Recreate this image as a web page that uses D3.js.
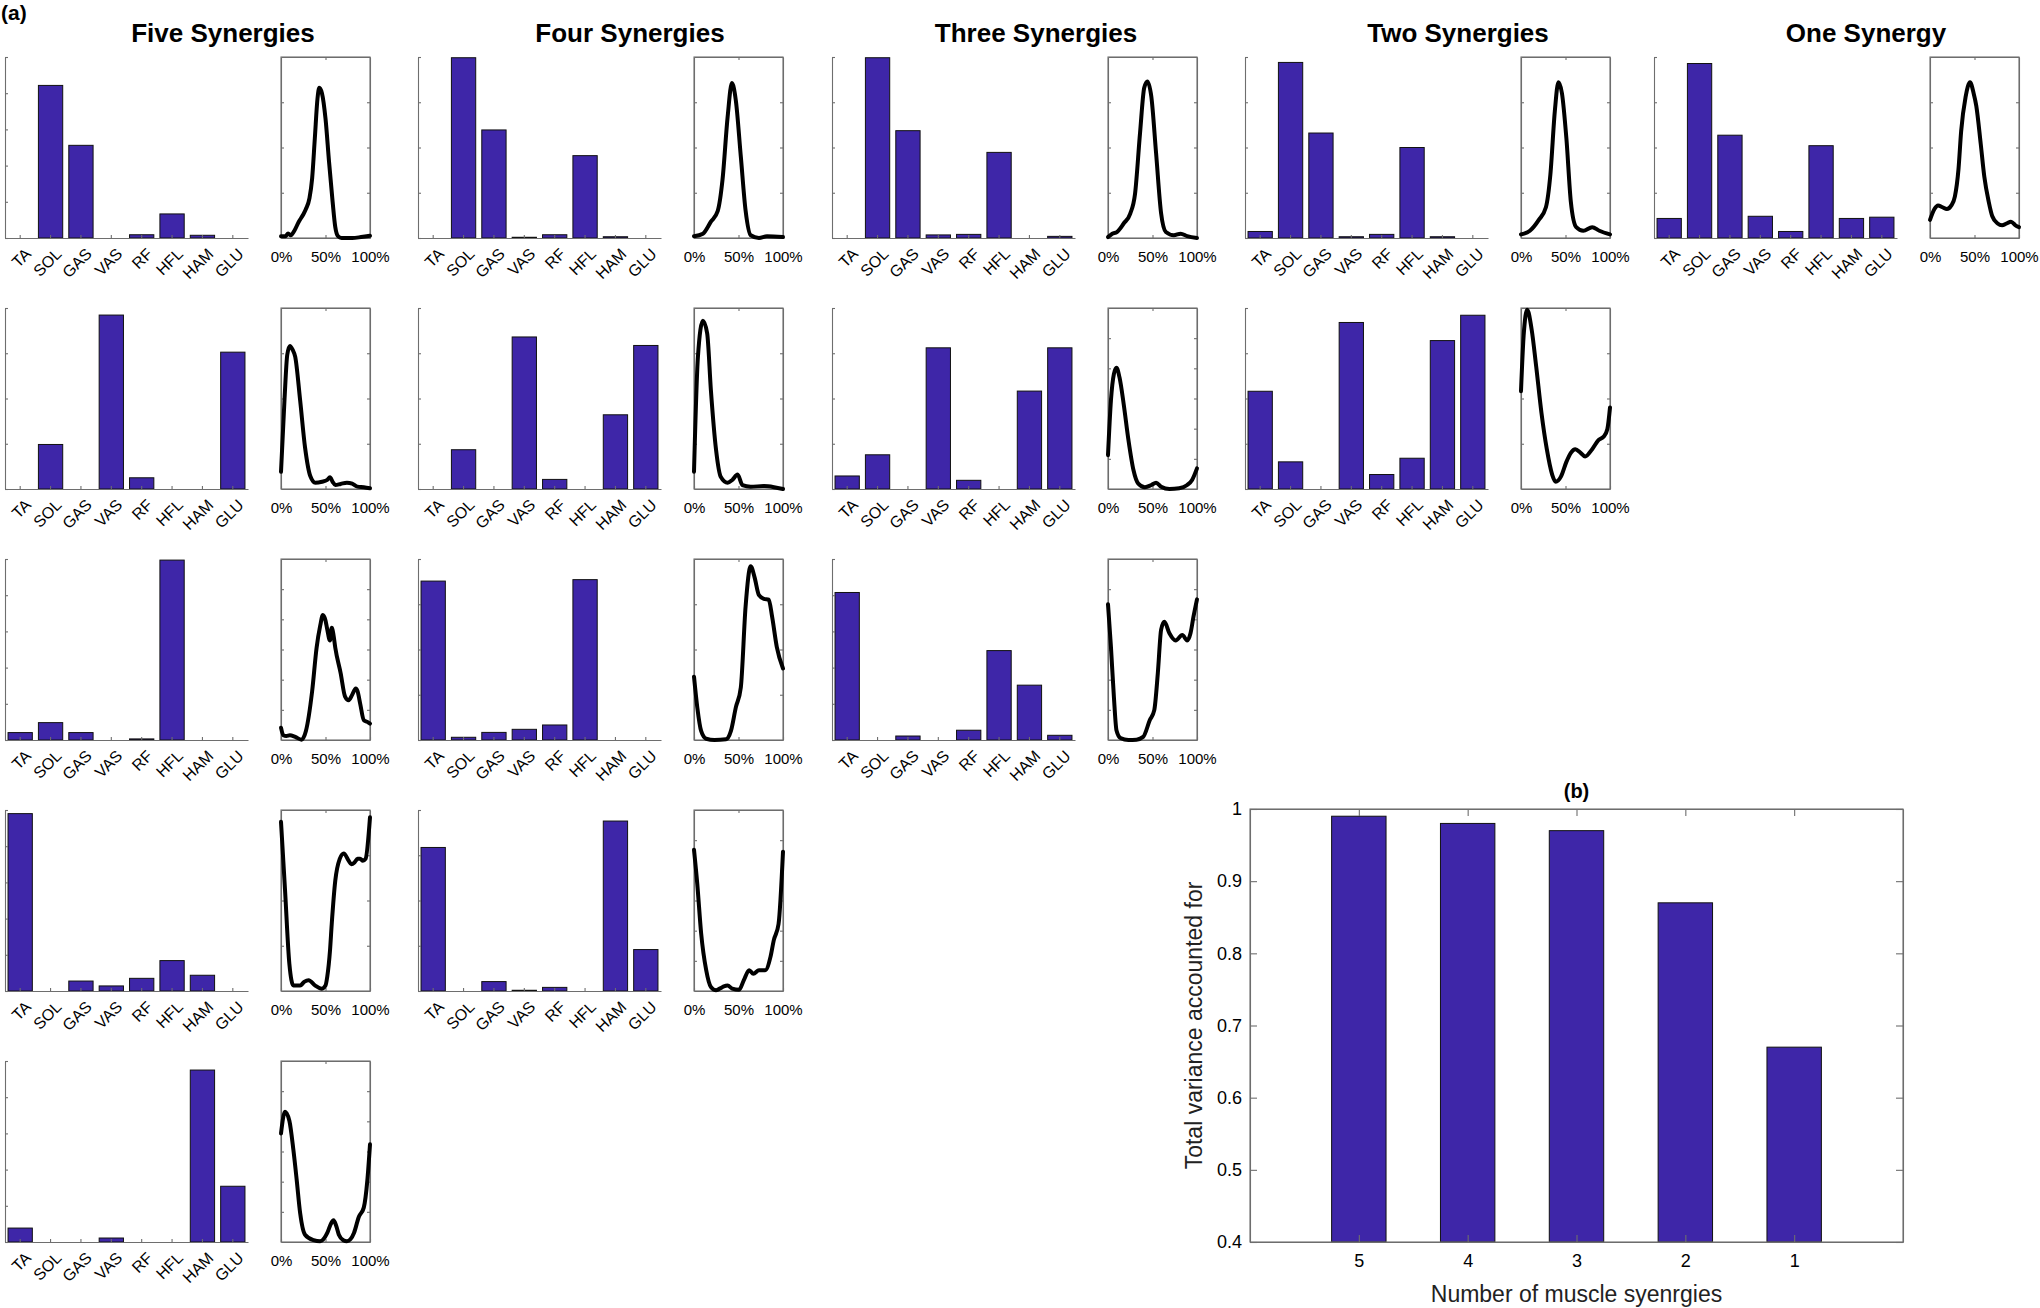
<!DOCTYPE html>
<html><head><meta charset="utf-8">
<script src="https://cdn.jsdelivr.net/npm/d3@7"></script>
<style>
body{margin:0;background:#fff;}
text{font-family:"Liberation Sans",Arial,Helvetica,sans-serif;}
</style></head><body><svg id="chart" width="2040" height="1308"></svg>
<script>
// ---------------- DATA ----------------
const muscles = ["TA","SOL","GAS","VAS","RF","HFL","HAM","GLU"];
const columnTitles = ["Five Synergies","Four Synergies","Three Synergies","Two Synergies","One Synergy"];
const phaseTickLabels = ["0%","50%","100%"];

// muscle weights (normalised to each bar axis height)
const weightsFive = [
  [0, 0.843, 0.512, 0, 0.018, 0.133, 0.015, 0],
  [0, 0.246, 0, 0.961, 0.062, 0, 0, 0.756],
  [0.041, 0.096, 0.041, 0, 0.006, 0.994, 0, 0],
  [0.98, 0, 0.055, 0.028, 0.07, 0.168, 0.087, 0],
  [0.077, 0, 0, 0.022, 0, 0, 0.95, 0.308]
];
const weightsFour = [
  [0, 0.996, 0.597, 0.004, 0.018, 0.455, 0.007, 0],
  [0, 0.217, 0, 0.84, 0.053, 0, 0.41, 0.793],
  [0.878, 0.015, 0.042, 0.059, 0.083, 0.886, 0, 0],
  [0.793, 0, 0.052, 0.004, 0.02, 0, 0.939, 0.229]
];
const weightsThree = [
  [0, 0.996, 0.593, 0.017, 0.02, 0.473, 0, 0.009],
  [0.072, 0.189, 0, 0.78, 0.048, 0, 0.541, 0.78],
  [0.815, 0, 0.022, 0, 0.054, 0.494, 0.303, 0.026]
];
const weightsTwo = [
  [0.036, 0.97, 0.58, 0.007, 0.02, 0.50, 0.007, 0],
  [0.54, 0.15, 0, 0.92, 0.08, 0.17, 0.82, 0.96]
];
const weightsOne = [
  [0.108, 0.964, 0.568, 0.12, 0.036, 0.51, 0.108, 0.115]
];

// number of tick intervals on the bar / activation y axes
const barDivs  = [[5,4,5,5,5],[4,4,4,4],[4,4,5],[4,4],[4]];
const lineDivs = [[4,4,6,4,6],[4,4,4,6],[4,6,6],[4,4],[4]];

// activation curves: [percent of cycle, normalised activation]
const curvesFive = [
  [[0,0.01],[5,0.01],[8,0.025],[11,0.015],[15,0.04],[20,0.09],[25,0.13],[28,0.16],[32,0.22],[35,0.33],[38,0.55],[41,0.77],[43,0.83],[46,0.80],[50,0.66],[54,0.42],[58,0.2],[61,0.06],[64,0.01],[68,0],[80,0],[90,0.005],[100,0.012]],
  [[0,0.095],[4,0.5],[7,0.74],[10,0.79],[13,0.77],[16,0.73],[21.5,0.49],[27,0.23],[33,0.07],[38.5,0.035],[46,0.04],[52,0.05],[55,0.065],[58,0.04],[61,0.022],[67,0.028],[74,0.035],[80,0.03],[86,0.013],[93,0.01],[100,0.004]],
  [[0,0.068],[2.6,0.026],[6,0.022],[10,0.026],[16,0.017],[23,0.002],[28,0.05],[35,0.27],[40,0.51],[44,0.63],[47,0.69],[50,0.66],[52,0.61],[55,0.55],[57,0.62],[59,0.58],[61,0.51],[67,0.37],[72,0.24],[76,0.22],[80,0.25],[84,0.285],[86,0.27],[89,0.2],[93,0.11],[97,0.1],[100,0.09]],
  [[0,0.935],[4.5,0.56],[9.4,0.15],[14,0.03],[21.5,0.03],[26,0.05],[31,0.06],[38.5,0.03],[46,0.013],[50,0.03],[52,0.08],[55,0.22],[57,0.37],[61,0.61],[66,0.73],[70.5,0.76],[76,0.72],[79,0.70],[82.6,0.71],[86,0.73],[89,0.73],[92,0.72],[95,0.73],[100,0.96]],
  [[0,0.6],[4.5,0.72],[9.4,0.67],[14,0.505],[17.7,0.34],[21.5,0.16],[27,0.04],[36.6,0.01],[44,0.004],[52,0.05],[56,0.1],[59,0.12],[62,0.09],[65,0.04],[70,0.01],[74,0.004],[78,0.015],[82,0.05],[87.5,0.14],[93,0.19],[97,0.34],[100,0.54]]
];
const curvesFour = [
  [[0,0.01],[10,0.024],[19,0.09],[26.7,0.15],[32,0.32],[37.8,0.67],[42.6,0.856],[47,0.76],[52.6,0.45],[58,0.15],[63.7,0.015],[73,0],[82,0.01],[100,0.005]],
  [[0,0.095],[4.4,0.73],[10,0.93],[14.8,0.86],[19,0.545],[24.8,0.215],[30,0.068],[37.8,0.035],[43,0.05],[49,0.08],[54.4,0.022],[63.7,0.013],[78.5,0.016],[90,0.01],[100,0]],
  [[0,0.35],[3.7,0.18],[8,0.05],[13.7,0.007],[23,0],[36,0.004],[41.5,0.05],[47,0.18],[52.6,0.29],[58,0.74],[63.7,0.96],[68,0.90],[73,0.80],[78.5,0.78],[84,0.775],[87.8,0.68],[93,0.515],[100,0.395]],
  [[0,0.78],[3.7,0.59],[8,0.32],[13.7,0.115],[19,0.022],[24.8,0.004],[32,0.022],[37.8,0.03],[43,0.013],[50.7,0.007],[56,0.06],[62,0.115],[66.7,0.095],[73,0.115],[80,0.115],[86,0.19],[89.6,0.28],[95,0.37],[100,0.77]]
];
const curvesThree = [
  [[0,0.005],[4.8,0.024],[10,0.033],[17.6,0.08],[25,0.135],[30.4,0.245],[36,0.58],[40.7,0.83],[44.3,0.865],[48.7,0.78],[54,0.47],[59.7,0.135],[65,0.033],[74,0.015],[81.7,0.024],[89,0.01],[100,0]],
  [[0,0.187],[3.3,0.49],[6.6,0.635],[9.5,0.67],[13,0.615],[17.6,0.47],[23,0.27],[28.6,0.105],[34,0.03],[41.4,0.01],[48.7,0.022],[54,0.035],[59.7,0.013],[69,0],[80,0.004],[89,0.022],[94.5,0.05],[100,0.114]],
  [[0,0.75],[3.3,0.515],[6.6,0.24],[9.5,0.054],[14,0.011],[23,0],[32,0.002],[39.5,0.017],[47,0.11],[52,0.165],[56,0.37],[59.7,0.61],[63.4,0.653],[69,0.59],[76,0.55],[83.5,0.58],[89,0.55],[92.7,0.59],[96,0.68],[100,0.777]]
];
const curvesTwo = [
  [[0,0.02],[10,0.04],[20,0.1],[28,0.17],[33,0.35],[38,0.7],[42,0.86],[46,0.8],[51,0.55],[56,0.2],[62,0.06],[70,0.04],[80,0.06],[88,0.04],[100,0.02]],
  [[0,0.54],[3,0.85],[7,0.99],[12,0.88],[17,0.68],[23,0.42],[29,0.22],[35,0.08],[39,0.04],[45,0.07],[51,0.15],[56,0.2],[61,0.22],[67,0.2],[72,0.18],[80,0.22],[87,0.27],[93,0.29],[97,0.33],[100,0.45]]
];
const curvesOne = [
  [[0,0.1],[5,0.16],[9,0.18],[14,0.17],[19,0.16],[24,0.18],[28,0.23],[32,0.38],[35,0.59],[40,0.78],[45,0.86],[49,0.8],[52,0.73],[57,0.52],[61,0.34],[66,0.2],[70,0.12],[76,0.08],[81,0.07],[86,0.08],[91,0.09],[96,0.07],[100,0.06]]
];

// panel (b): variance accounted for
const vafLabels = ["5","4","3","2","1"];
const vafValues = [0.99, 0.98, 0.97, 0.87, 0.67];
const vafTicks = [0.4,0.5,0.6,0.7,0.8,0.9,1.0];
const vafTickLabels = ["0.4","0.5","0.6","0.7","0.8","0.9","1"];

// ---------------- LAYOUT ----------------
const svg = d3.select("#chart");
svg.append("rect").attr("width",2040).attr("height",1308).attr("fill","#fff");
const FONT = '"Liberation Sans",Arial,Helvetica,sans-serif';
const AX = "#6e6e6e";
const BAR = "#3e26a8";
const colLeft = [5, 418, 832, 1245, 1654];
const rowTop = [57, 308, 559, 810, 1061];
const titleX = [223, 630, 1036, 1458, 1866];
const barW = 243, axH = 181, lineOff = 276, lineW = 89;

const allWeights = [weightsFive, weightsFour, weightsThree, weightsTwo, weightsOne];
const allCurves = [curvesFive, curvesFour, curvesThree, curvesTwo, curvesOne];

function styleAxis(g, size){
  g.attr("color", AX).attr("font-family", FONT).attr("font-size", size || 15);
  g.selectAll("line, path").attr("stroke-width", 1.1);
  g.selectAll("text").attr("fill", "#000");
}

svg.append("text").attr("x",1).attr("y",20).attr("font-size",21).attr("font-weight","bold").text("(a)");

columnTitles.forEach((t,c) => {
  svg.append("text").attr("x",titleX[c]).attr("y",42).attr("text-anchor","middle")
    .attr("font-size",26).attr("font-weight","bold").text(t);
});

allWeights.forEach((rows, c) => {
  rows.forEach((w, r) => {
    const bx = colLeft[c], by = rowTop[r];
    const g = svg.append("g");
    // --- bar axes ---
    const x = d3.scaleBand().domain(muscles).range([bx, bx+barW]).paddingInner(0.2).paddingOuter(0.1);
    const y = d3.scaleLinear().domain([0,1]).range([by+axH, by]);
    g.selectAll("rect.bar").data(muscles.map((m,i)=>({m, v:w[i]}))).join("rect")
      .attr("class","bar")
      .attr("x", d=>x(d.m)).attr("width", x.bandwidth())
      .attr("y", d=>y(d.v)).attr("height", d=>y(0)-y(d.v))
      .attr("fill", BAR).attr("stroke", "#111").attr("stroke-width", 1);
    const div = barDivs[c][r];
    const ya = g.append("g").attr("transform",`translate(${bx},0)`)
      .call(d3.axisRight(y).tickValues(d3.range(div+1).map(i=>i/div)).tickSize(3).tickSizeOuter(0).tickFormat(""));
    styleAxis(ya);
    const xa = g.append("g").attr("transform",`translate(0,${by+axH})`)
      .call(d3.axisTop(x).tickSize(3).tickSizeOuter(0).tickFormat(""));
    styleAxis(xa);
    g.selectAll("text.ml").data(muscles).join("text").attr("class","ml")
      .attr("transform", m=>`translate(${x(m)+x.bandwidth()/2+8},${by+axH+13}) rotate(-45)`)
      .attr("text-anchor","end").attr("dy","0.35em").attr("font-size",16).text(m=>m);

    // --- activation box ---
    const lx = bx + lineOff;
    const px = d3.scaleLinear().domain([0,100]).range([lx, lx+lineW]);
    const py = d3.scaleLinear().domain([0,1]).range([by+axH, by]);
    const ld = lineDivs[c][r];
    const yt = d3.range(1, ld).map(i=>i/ld);
    const la = g.append("g").attr("transform",`translate(${lx},0)`)
      .call(d3.axisRight(py).tickValues(yt).tickSize(3).tickSizeOuter(0).tickFormat(""));
    styleAxis(la);
    const ra = g.append("g").attr("transform",`translate(${lx+lineW},0)`)
      .call(d3.axisLeft(py).tickValues(yt).tickSize(3).tickSizeOuter(0).tickFormat(""));
    styleAxis(ra);
    const ta = g.append("g").attr("transform",`translate(0,${by})`)
      .call(d3.axisBottom(px).tickValues([50]).tickSize(3).tickSizeOuter(0).tickFormat(""));
    styleAxis(ta);
    const ba = g.append("g").attr("transform",`translate(0,${by+axH})`)
      .call(d3.axisBottom(px).tickValues([0,50,100]).tickSizeInner(-3).tickSizeOuter(0).tickPadding(13)
        .tickFormat((d,i)=>phaseTickLabels[i]));
    styleAxis(ba, 15);
    g.append("rect").attr("x",lx).attr("y",by).attr("width",lineW).attr("height",axH)
      .attr("fill","none").attr("stroke",AX).attr("stroke-width",1.1);
    const line = d3.line().x(d=>px(d[0])).y(d=>py(d[1])).curve(d3.curveMonotoneX);
    g.append("path").datum(allCurves[c][r]).attr("d", line)
      .attr("fill","none").attr("stroke","#000").attr("stroke-width",4)
      .attr("stroke-linejoin","round").attr("stroke-linecap","round");
  });
});

// ---------------- PANEL (b) ----------------
const bL = 1250, bR = 1903, bT = 809, bB = 1242;
const xb = d3.scaleLinear().domain([0,6]).range([bL,bR]);
const yb = d3.scaleLinear().domain([0.4,1]).range([bB,bT]);
const gb = svg.append("g");
const vafData = vafValues.map((v,i)=>({pos:i+1, v}));
gb.selectAll("rect.vaf").data(vafData).join("rect").attr("class","vaf")
  .attr("x", d=>xb(d.pos-0.25)).attr("width", xb(0.5)-xb(0))
  .attr("y", d=>yb(d.v)).attr("height", d=>yb(0.4)-yb(d.v))
  .attr("fill", BAR).attr("stroke","#111").attr("stroke-width",1);
const bya = gb.append("g").attr("transform",`translate(${bL},0)`)
  .call(d3.axisLeft(yb).tickValues(vafTicks).tickSizeInner(-7).tickSizeOuter(0).tickPadding(8)
    .tickFormat((d,i)=>vafTickLabels[i]));
styleAxis(bya, 18);
const byr = gb.append("g").attr("transform",`translate(${bR},0)`)
  .call(d3.axisRight(yb).tickValues(vafTicks).tickSizeInner(-7).tickSizeOuter(0).tickFormat(""));
styleAxis(byr);
const bxa = gb.append("g").attr("transform",`translate(0,${bB})`)
  .call(d3.axisBottom(xb).tickValues([1,2,3,4,5]).tickSizeInner(-7).tickSizeOuter(0).tickPadding(12)
    .tickFormat((d,i)=>vafLabels[i]));
styleAxis(bxa, 18);
const bxt = gb.append("g").attr("transform",`translate(0,${bT})`)
  .call(d3.axisTop(xb).tickValues([1,2,3,4,5]).tickSizeInner(-7).tickSizeOuter(0).tickFormat(""));
styleAxis(bxt);
gb.append("rect").attr("x",bL).attr("y",bT).attr("width",bR-bL).attr("height",bB-bT)
  .attr("fill","none").attr("stroke",AX).attr("stroke-width",1.1);
gb.append("text").attr("x",(bL+bR)/2).attr("y",798).attr("text-anchor","middle")
  .attr("font-size",20).attr("font-weight","bold").text("(b)");
gb.append("text").attr("x",(bL+bR)/2).attr("y",1302).attr("text-anchor","middle")
  .attr("font-size",23).attr("fill","#222").text("Number of muscle syenrgies");
gb.append("text").attr("transform",`translate(1202,${(bT+bB)/2}) rotate(-90)`).attr("text-anchor","middle")
  .attr("font-size",23).attr("fill","#222").text("Total variance accounted for");
</script></body></html>
